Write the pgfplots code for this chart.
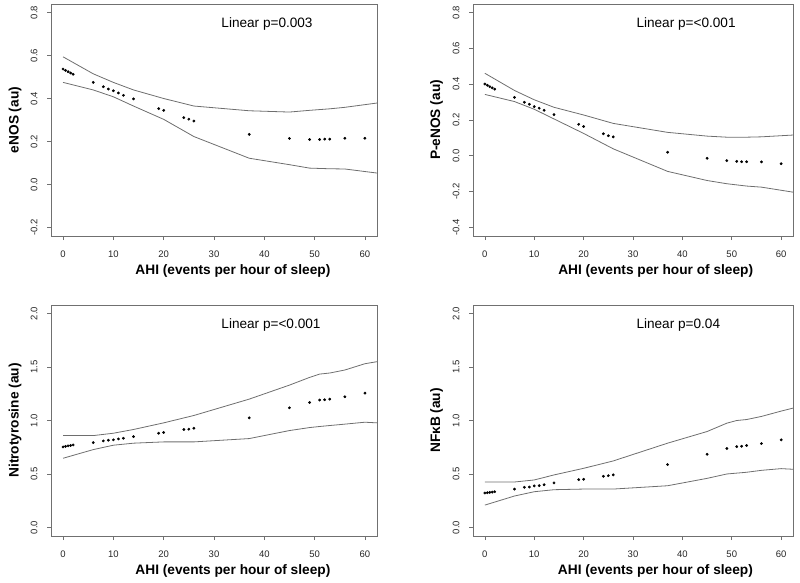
\documentclass[border=0pt]{standalone}
\usepackage{pgfplots}
\pgfplotsset{compat=1.18}
\usepackage{pgfplotstable}
\usepackage{fontspec}
\setmainfont{Liberation Sans}
\definecolor{boxgray}{HTML}{707070}
\definecolor{cigray}{HTML}{6E6E6E}
\definecolor{ticktext}{HTML}{262626}

\pgfplotstableread{
x y
0 0.537
0.5 0.531
1 0.525
1.5 0.519
2 0.513
6 0.475
8 0.455
9 0.444
10 0.436
11 0.426
12 0.415
14 0.398
19 0.353
20 0.345
24 0.311
25 0.304
26 0.295
37 0.233
45 0.214
49 0.209
51 0.209
52 0.211
53 0.211
56 0.215
60 0.215
}\ptTL
\pgfplotstableread{
x lo hi
0 0.475 0.594
6 0.440 0.515
10 0.408 0.475
14 0.365 0.440
20 0.303 0.400
26 0.223 0.365
37 0.122 0.343
45 0.092 0.337
49 0.076 0.345
53 0.073 0.352
56 0.072 0.359
62.4 0.053 0.379
}\ciTL

\pgfplotstableread{
x y
0 0.401
0.5 0.394
1 0.386
1.5 0.379
2 0.372
6 0.326
8 0.299
9 0.288
10 0.275
11 0.266
12 0.254
14 0.230
19 0.176
20 0.164
24 0.123
25 0.112
26 0.106
37 0.020
45 -0.014
49 -0.027
51 -0.031
52 -0.033
53 -0.033
56 -0.034
60 -0.044
}\ptTR
\pgfplotstableread{
x lo hi
0 0.343 0.461
6 0.303 0.365
10 0.260 0.313
14 0.206 0.271
20 0.125 0.228
26 0.039 0.181
37 -0.087 0.131
45 -0.138 0.110
49 -0.156 0.104
53 -0.169 0.104
56 -0.175 0.106
62.4 -0.203 0.116
}\ciTR

\pgfplotstableread{
x y
0 0.753
0.5 0.758
1 0.763
1.5 0.767
2 0.772
6 0.794
8 0.809
9 0.816
10 0.819
11 0.828
12 0.834
14 0.850
19 0.881
20 0.888
24 0.916
25 0.919
26 0.928
37 1.025
45 1.119
49 1.169
51 1.191
52 1.194
53 1.200
56 1.222
60 1.256
}\ptBL
\pgfplotstableread{
x lo hi
0 0.647 0.859
6 0.728 0.859
10 0.769 0.881
14 0.788 0.916
20 0.800 0.978
26 0.800 1.047
37 0.831 1.200
45 0.906 1.331
49 0.934 1.403
51 0.944 1.434
53 0.953 1.444
56 0.966 1.472
60 0.984 1.531
62.4 0.978 1.550
}\ciBL

\pgfplotstableread{
x y
0 0.322
0.5 0.325
1 0.328
1.5 0.331
2 0.334
6 0.359
8 0.375
9 0.378
10 0.388
11 0.391
12 0.400
14 0.416
19 0.447
20 0.450
24 0.478
25 0.484
26 0.491
37 0.588
45 0.684
49 0.738
51 0.756
52 0.759
53 0.766
56 0.784
60 0.819
}\ptBR
\pgfplotstableread{
x lo hi
0 0.209 0.425
6 0.294 0.425
10 0.334 0.444
14 0.353 0.491
20 0.359 0.553
26 0.359 0.622
37 0.390 0.788
45 0.459 0.897
49 0.500 0.975
51 0.508 1.000
53 0.516 1.009
56 0.534 1.038
60 0.550 1.088
62.4 0.544 1.116
}\ciBR

\pgfplotsset{
  rstyle/.style={
    scale only axis,
    xmin=-2.4, xmax=62.4,
    xtick={0,10,...,60},
    tick align=outside,
    xtick pos=bottom, ytick pos=left,
    major tick length=4pt,
    minor tick num=0,
    every tick/.style={boxgray, line width=0.7pt},
    axis line style={boxgray, line width=0.9pt},
    /pgf/number format/assume math mode=true,
    ticklabel style={font=\fontsize{9.5}{10}\selectfont, text=ticktext},
    yticklabel style={rotate=90, anchor=south, /pgf/number format/.cd, fixed, fixed zerofill, precision=1},
    xticklabel style={anchor=center, yshift=-14pt},
    yticklabel shift=6pt,
    label style={font=\fontsize{13.7}{15}\selectfont\bfseries},
    clip=true,
  },
  ci/.style={cigray, line width=0.8pt, no marks},
  pts/.style={only marks, mark=*, mark size=1.2pt, black},
}
\tikzset{ptext/.style={anchor=west, font=\fontsize{13.6}{15}\selectfont}}

\begin{document}
\begin{tikzpicture}
\useasboundingbox (0,0) rectangle (800pt,-583pt);

% Top left
\begin{axis}[rstyle, at={(51pt,-4pt)}, anchor=north west,
  width=326pt, height=232pt,
  ymin=-0.24, ymax=0.84, ytick={-0.2,0,0.2,0.4,0.6,0.8},
  ylabel={eNOS (au)}, xlabel={AHI (events per hour of sleep)},
  xlabel style={at={(axis description cs:0.558,-0.151)}, anchor=center},
  ylabel style={at={(axis description cs:-0.110,0.5)}, anchor=center},
]
\addplot[ci] table[x=x, y=lo] {\ciTL};
\addplot[ci] table[x=x, y=hi] {\ciTL};
\addplot[pts] table[x=x, y=y] {\ptTL};
\node[ptext] at (axis description cs:0.512,0.914) {Linear p=0.003};
\end{axis}

% Top right
\begin{axis}[rstyle, at={(473pt,-4pt)}, anchor=north west,
  width=320pt, height=232pt,
  ymin=-0.448, ymax=0.848, ytick={-0.4,-0.2,0,0.2,0.4,0.6,0.8},
  ylabel={P-eNOS (au)}, xlabel={AHI (events per hour of sleep)},
  xlabel style={at={(axis description cs:0.571,-0.151)}, anchor=center},
  ylabel style={at={(axis description cs:-0.114,0.5)}, anchor=center},
]
\addplot[ci] table[x=x, y=lo] {\ciTR};
\addplot[ci] table[x=x, y=hi] {\ciTR};
\addplot[pts] table[x=x, y=y] {\ptTR};
\node[ptext] at (axis description cs:0.5,0.914) {Linear p=<0.001};
\end{axis}

% Bottom left
\begin{axis}[rstyle, at={(51pt,-305pt)}, anchor=north west,
  width=326pt, height=231pt,
  ymin=-0.08, ymax=2.08, ytick={0,0.5,1,1.5,2},
  ylabel={Nitrotyrosine (au)}, xlabel={AHI (events per hour of sleep)},
  xlabel style={at={(axis description cs:0.558,-0.152)}, anchor=center},
  ylabel style={at={(axis description cs:-0.110,0.5)}, anchor=center},
]
\addplot[ci] table[x=x, y=lo] {\ciBL};
\addplot[ci] table[x=x, y=hi] {\ciBL};
\addplot[pts] table[x=x, y=y] {\ptBL};
\node[ptext] at (axis description cs:0.512,0.913) {Linear p=<0.001};
\end{axis}

% Bottom right
\begin{axis}[rstyle, at={(473pt,-305pt)}, anchor=north west,
  width=320pt, height=231pt,
  ymin=-0.08, ymax=2.08, ytick={0,0.5,1,1.5,2},
  ylabel={NFκB (au)}, xlabel={AHI (events per hour of sleep)},
  xlabel style={at={(axis description cs:0.57,-0.152)}, anchor=center},
  ylabel style={at={(axis description cs:-0.114,0.5)}, anchor=center},
]
\addplot[ci] table[x=x, y=lo] {\ciBR};
\addplot[ci] table[x=x, y=hi] {\ciBR};
\addplot[pts] table[x=x, y=y] {\ptBR};
\node[ptext] at (axis description cs:0.5,0.913) {Linear p=0.04};
\end{axis}
\end{tikzpicture}
\end{document}
